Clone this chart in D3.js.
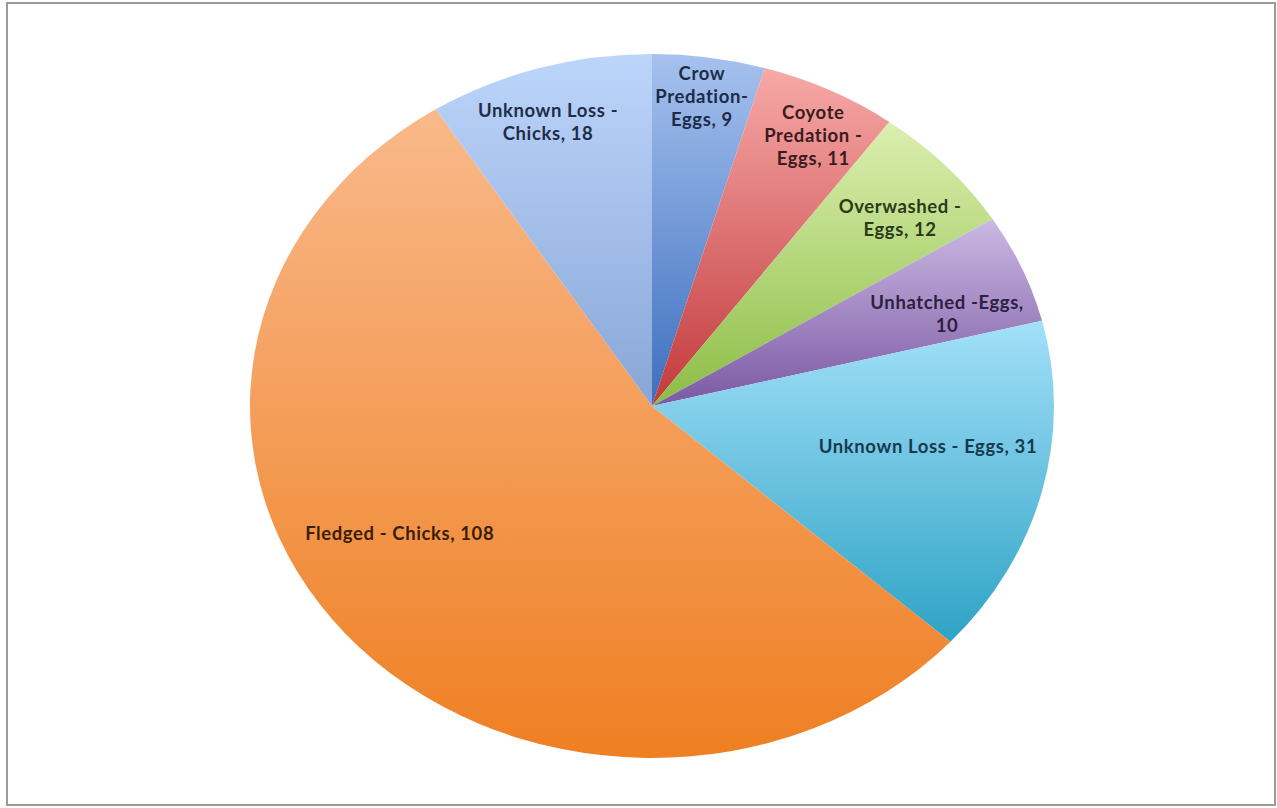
<!DOCTYPE html>
<html>
<head>
<meta charset="utf-8">
<script src="https://d3js.org/d3.v7.min.js"></script>
<style>
  html, body { margin: 0; padding: 0; background: #fff; }
  svg { display: block; }
</style>
</head>
<body>
<svg id="chart" width="1277" height="808"></svg>
<script>
// ---- data ----
const categories = [
  "Crow Predation- Eggs",
  "Coyote Predation - Eggs",
  "Overwashed - Eggs",
  "Unhatched -Eggs",
  "Unknown Loss - Eggs",
  "Fledged - Chicks",
  "Unknown Loss - Chicks"
];
const values = [9, 11, 12, 10, 31, 108, 18];
const labelLines = [
  ["Crow", "Predation-", "Eggs, 9"],
  ["Coyote", "Predation -", "Eggs, 11"],
  ["Overwashed -", "Eggs, 12"],
  ["Unhatched -Eggs,", "10"],
  ["Unknown Loss - Eggs, 31"],
  ["Fledged - Chicks, 108"],
  ["Unknown Loss -", "Chicks, 18"]
];

// ---- styles ----
const gradTop    = ["#a6c1ee", "#f7a9a8", "#dcefb0", "#cbb9e3", "#a3e0f9", "#f9b98b", "#bcd5fb"];
const gradBottom = ["#3d6fbf", "#c2393b", "#8cbd45", "#7a58a3", "#2ea3c5", "#ef7f22", "#88a6d6"];
const textColor  = ["#1c2c48", "#3b1c1c", "#2a3a1a", "#2e2040", "#183a4c", "#3a1e08", "#1f2d45"];
// label placement: [radius fraction, angle offset in degrees]
const labelPlace = [[0.887, -0.1], [0.868, 1.3], [0.816, 2.1], [0.779, 3.5], [0.696, -4.6], [0.725, 10.2], [0.847, -1.5]];

const W = 1277, H = 808;
const cx = 652, cy = 406, rx = 402, ry = 352;

const svg = d3.select("#chart");

// frame
svg.append("rect")
  .attr("x", 7).attr("y", 3).attr("width", 1268).attr("height", 802)
  .attr("fill", "#fff").attr("stroke", "#9a9a9a").attr("stroke-width", 2);

const defs = svg.append("defs");
values.forEach((v, i) => {
  const g = defs.append("linearGradient")
    .attr("id", "grad" + i)
    .attr("x1", 0).attr("y1", 0).attr("x2", 0).attr("y2", 1);
  g.append("stop").attr("offset", "0%").attr("stop-color", gradTop[i]);
  g.append("stop").attr("offset", "100%").attr("stop-color", gradBottom[i]);
});

const pie = d3.pie().sort(null).value(d => d);
const arcs = pie(values);
const arc = d3.arc().innerRadius(0).outerRadius(ry);

const pieG = svg.append("g")
  .attr("transform", `translate(${cx},${cy}) scale(${rx / ry},1)`);

pieG.selectAll("path")
  .data(arcs)
  .enter().append("path")
  .attr("d", arc)
  .attr("fill", (d, i) => `url(#grad${i})`)
  .attr("stroke", "none");

// labels
const fontSize = 18.5;
const lineH = 23;
const lab = svg.append("g")
  .attr("font-family", "Lato, 'Open Sans', sans-serif")
  .attr("font-weight", 700)
  .attr("letter-spacing", "0.6px")
  .attr("font-size", fontSize);

arcs.forEach((d, i) => {
  const mid = (d.startAngle + d.endAngle) / 2 + labelPlace[i][1] * Math.PI / 180;
  const rf = labelPlace[i][0];
  const x = cx + Math.sin(mid) * rx * rf;
  const y = cy - Math.cos(mid) * ry * rf;
  const lines = labelLines[i];
  const t = lab.append("text")
    .attr("text-anchor", "middle")
    .attr("fill", textColor[i]);
  lines.forEach((ln, k) => {
    t.append("tspan")
      .attr("x", x)
      .attr("y", y + (k - (lines.length - 1) / 2) * lineH)
      .attr("dy", "0.35em")
      .text(ln);
  });
});
</script>
</body>
</html>
